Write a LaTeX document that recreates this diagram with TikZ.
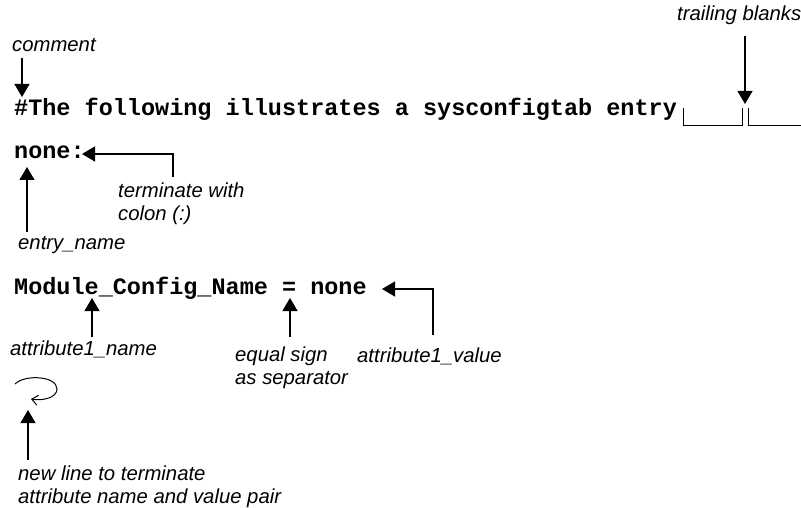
\documentclass[tikz,border=0pt]{standalone}
\usepackage{fontspec}
\setmainfont{Liberation Sans}
\newfontfamily\codefont{Liberation Mono}
\usetikzlibrary{arrows.meta,positioning}

\begin{document}
\begin{tikzpicture}[x=1pt,y=-1pt,
  code/.style={anchor=base west,inner sep=0pt,font=\codefont\bfseries\fontsize{23.5}{28}\selectfont},
  note/.style={anchor=base west,inner sep=0pt,align=left,font=\itshape\fontsize{20.3}{23}\selectfont},
  pointer/.style={line width=1.2pt,-{Triangle[length=13pt,width=15pt]}},
  blank/.style={line width=1pt}]
  \useasboundingbox (0,0) rectangle (801,508);

  % The sysconfigtab lines
  \node[code] (hdr) at (14,116) {\#The following illustrates a sysconfigtab entry};
  \node[code] (entry) at (14,159) {none:};
  \node[code] (attr) at (14,294) {Module\_Config\_Name = none};

  % Trailing blanks
  \draw[blank] (683,108) |- (742,126) -- (742,108);
  \draw[blank] (748,108) |- (801,126);

  % Labels (two-line ones sit on their last line)
  \node[note] (comment) at (12,52) {comment};
  \node[note] (trailing) at (677,21) {trailing blanks};
  \node[note] (colon) at (118,220) {terminate with\\colon (:)};
  \node[note] (ename) at (18,249) {entry\_name};
  \node[note] (aname) at (10,355) {attribute1\_name};
  \node[note] (equal) at (235,384) {equal sign\\as separator};
  \node[note] (avalue) at (357,362) {attribute1\_value};
  \node[note] (newline) at (18,503) {new line to terminate\\attribute name and value pair};

  % Targets in the text
  \coordinate (hashtop) at (22,97);
  \coordinate (gap) at (745,104);
  \coordinate (colonend) at (82,154);
  \coordinate (nonestart) at (27,167);
  \coordinate (underscore) at (92,298);
  \coordinate (eqsign) at (290,298);
  \coordinate (valueend) at (382,289);
  \coordinate (curlend) at (28,410);

  % Pointers
  \draw[pointer] (22,58) -- (hashtop);
  \draw[pointer] (745,36) -- (gap);
  \draw[pointer] (173,177) |- (colonend);
  \draw[pointer] (27,232) -- (nonestart);
  \draw[pointer] (92,337) -- (underscore);
  \draw[pointer] (290,337) -- (eqsign);
  \draw[pointer] (433,335) |- (valueend);
  \draw[pointer] (28,460) -- (curlend);

  % New line symbol
  \draw[line width=1pt,-{Straight Barb[length=6pt,width=10pt]}]
    (15,384) .. controls (25,374) and (57,376) .. (57,389)
    .. controls (57,398) and (42,401) .. (31,399);
\end{tikzpicture}
\end{document}
